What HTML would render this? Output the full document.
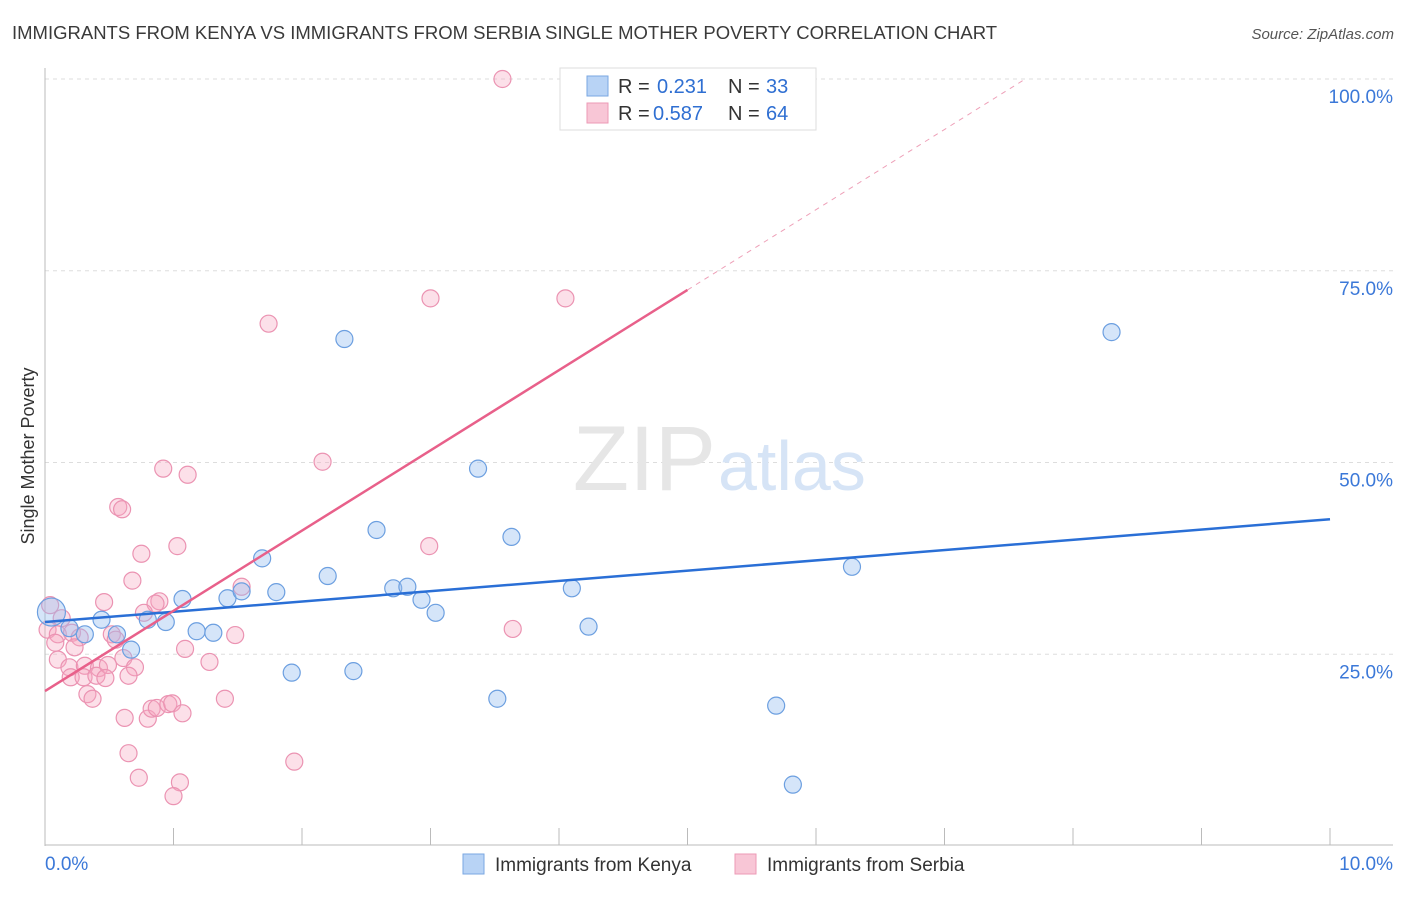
<!DOCTYPE html>
<html><head><meta charset="utf-8"><style>
body{margin:0;background:#fff;font-family:"Liberation Sans",sans-serif;}
svg text{font-family:"Liberation Sans",sans-serif;}
</style></head><body>
<svg id="chart" width="1406" height="892" viewBox="0 0 1406 892" xmlns="http://www.w3.org/2000/svg">
<text x="12" y="39" font-size="18.5" fill="#3a3a3a">IMMIGRANTS FROM KENYA VS IMMIGRANTS FROM SERBIA SINGLE MOTHER POVERTY CORRELATION CHART</text>
<text x="1394" y="39" font-size="15" fill="#555" text-anchor="end" font-style="italic">Source: ZipAtlas.com</text>
<g id="grid"></g>
<text x="716" y="490" font-size="92" fill="#e6e6e6" text-anchor="end" font-family="Liberation Serif">ZIP</text>
<text x="718" y="490" font-size="70" fill="#d6e4f6">atlas</text>
<text transform="translate(34,456) rotate(-90)" font-size="18" fill="#333" text-anchor="middle">Single Mother Poverty</text>
<g id="marks"></g>
<g>
<rect x="560" y="68" width="256" height="62" fill="#fff" stroke="#ddd"/>
<rect x="587" y="76" width="21" height="20" fill="#b8d3f5" stroke="#7aa7e2"/>
<text x="618" y="93" font-size="20" fill="#333">R = </text><text x="657" y="93" font-size="20" fill="#2f6fd2">0.231</text>
<text x="728" y="93" font-size="20" fill="#333">N = </text><text x="766" y="93" font-size="20" fill="#2f6fd2">33</text>
<rect x="587" y="103" width="21" height="20" fill="#f8c6d6" stroke="#ec9ab6"/>
<text x="618" y="120" font-size="20" fill="#333">R = </text><text x="653" y="120" font-size="20" fill="#2f6fd2">0.587</text>
<text x="728" y="120" font-size="20" fill="#333">N = </text><text x="766" y="120" font-size="20" fill="#2f6fd2">64</text>
</g>
<g>
<rect x="463" y="854" width="21" height="20" fill="#b8d3f5" stroke="#7aa7e2"/>
<text x="495" y="871" font-size="19" fill="#333">Immigrants from Kenya</text>
<rect x="735" y="854" width="21" height="20" fill="#f8c6d6" stroke="#ec9ab6"/>
<text x="767" y="871" font-size="19" fill="#333">Immigrants from Serbia</text>
</g>
</svg>
<script>
const yTicks=[25,50,75,100];
const yTickLabels=["25.0%","50.0%","75.0%","100.0%"];
const xTickLabels=["0.0%","10.0%"];
const kenyaX=[0.05,0.19,0.31,0.44,0.56,0.67,0.80,0.94,1.07,1.18,1.31,1.42,1.53,1.69,1.80,1.92,2.20,2.33,2.40,2.58,2.71,2.82,2.93,3.04,3.37,3.52,3.63,4.10,4.23,5.69,5.82,6.28,8.30];
const kenyaY=[30.5,28.4,27.6,29.5,27.6,25.6,29.5,29.2,32.2,28.0,27.8,32.3,33.2,37.5,33.1,22.6,35.2,66.1,22.8,41.2,33.6,33.8,32.1,30.4,49.2,19.2,40.3,33.6,28.6,18.3,8.0,36.4,67.0];
const serbiaX=[3.56,1.74,3.00,4.05,2.16,0.92,1.11,0.57,0.60,0.75,1.03,2.99,0.68,1.53,0.46,0.89,0.86,0.77,0.04,0.13,0.02,0.10,0.21,0.27,0.08,0.23,0.52,0.55,1.48,1.09,3.64,0.10,0.19,0.31,0.42,0.20,0.30,0.40,0.49,0.61,0.70,1.28,0.33,0.37,0.62,0.80,0.83,0.87,0.96,0.99,1.07,1.40,0.65,1.94,0.73,1.05,1.00,0.47,0.65];
const serbiaY=[100,68.1,71.4,71.4,50.1,49.2,48.4,44.2,43.9,38.1,39.1,39.1,34.6,33.8,31.8,31.9,31.6,30.4,31.4,29.7,28.2,27.6,27.8,27.2,26.5,25.9,27.6,26.9,27.5,25.7,28.3,24.3,23.3,23.5,23.2,22.0,22.0,22.2,23.6,24.5,23.3,24.0,19.8,19.2,16.7,16.6,17.9,18.0,18.5,18.6,17.3,19.2,12.1,11.0,8.9,8.3,6.5,21.9,22.2];
const kenyaTrend=[29.2,42.6];
const serbiaTrend=[20.2,72.5];
const NS="http://www.w3.org/2000/svg";
const X=v=>45+v*128.5, Y=v=>846-v*7.67;
function mk(t,a,p){const e=document.createElementNS(NS,t);for(const k in a)e.setAttribute(k,a[k]);p.appendChild(e);return e;}
const grid=document.getElementById('grid'),marks=document.getElementById('marks');
yTicks.forEach((t,i)=>{
 const l=mk('line',{x1:45,x2:1393,y1:Y(t),y2:Y(t),stroke:'#ddd','stroke-dasharray':'4,4'},grid);
 
 
 const tx=mk('text',{x:1393,y:Y(t)+24,'font-size':19,fill:'#3b78d8','text-anchor':'end'},grid);
 tx.textContent=yTickLabels[i];
 
 
});
const ax=mk('line',{x1:45,x2:45,y1:68,y2:846,stroke:'#bbb'},grid);


const bx=mk('line',{x1:45,x2:1393,y1:845,y2:845,stroke:'#bbb'},grid);


for(let i=1;i<=10;i++){const t=mk('line',{x1:X(i),x2:X(i),y1:828,y2:845,stroke:'#bbb'},grid);
 
 }
xTickLabels.forEach((s,i)=>{const t=mk('text',{x:i?1393:45,y:870,'font-size':19,fill:'#3b78d8','text-anchor':i?'end':'start'},grid);t.textContent=s;
 
 });
serbiaX.forEach((x,i)=>{const c=mk('circle',{cx:X(x),cy:Y(serbiaY[i]),r:8.5,fill:'rgba(245,165,192,0.35)',stroke:'#eb93b2','stroke-width':1.2},marks);
 
 });
kenyaX.forEach((x,i)=>{const c=mk('circle',{cx:X(x),cy:Y(kenyaY[i]),r:i===0?14:8.5,fill:'rgba(150,190,240,0.4)',stroke:'#6c9fe0','stroke-width':1.2},marks);
 
 });
const kl=mk('line',{x1:X(0),y1:Y(kenyaTrend[0]),x2:X(10),y2:Y(kenyaTrend[1]),stroke:'#2a6fd6','stroke-width':2.5},marks);


const slope=(serbiaTrend[1]-serbiaTrend[0])/5;
const xEnd=5+(100-serbiaTrend[1])/slope;
const sl=mk('line',{x1:X(0),y1:Y(serbiaTrend[0]),x2:X(5),y2:Y(serbiaTrend[1]),stroke:'#e8608a','stroke-width':2.5},marks);


const sd=mk('line',{x1:X(5),y1:Y(serbiaTrend[1]),x2:X(xEnd),y2:Y(100),stroke:'#eea0b8','stroke-width':1,'stroke-dasharray':'5,5'},marks);


</script>
</body></html>
